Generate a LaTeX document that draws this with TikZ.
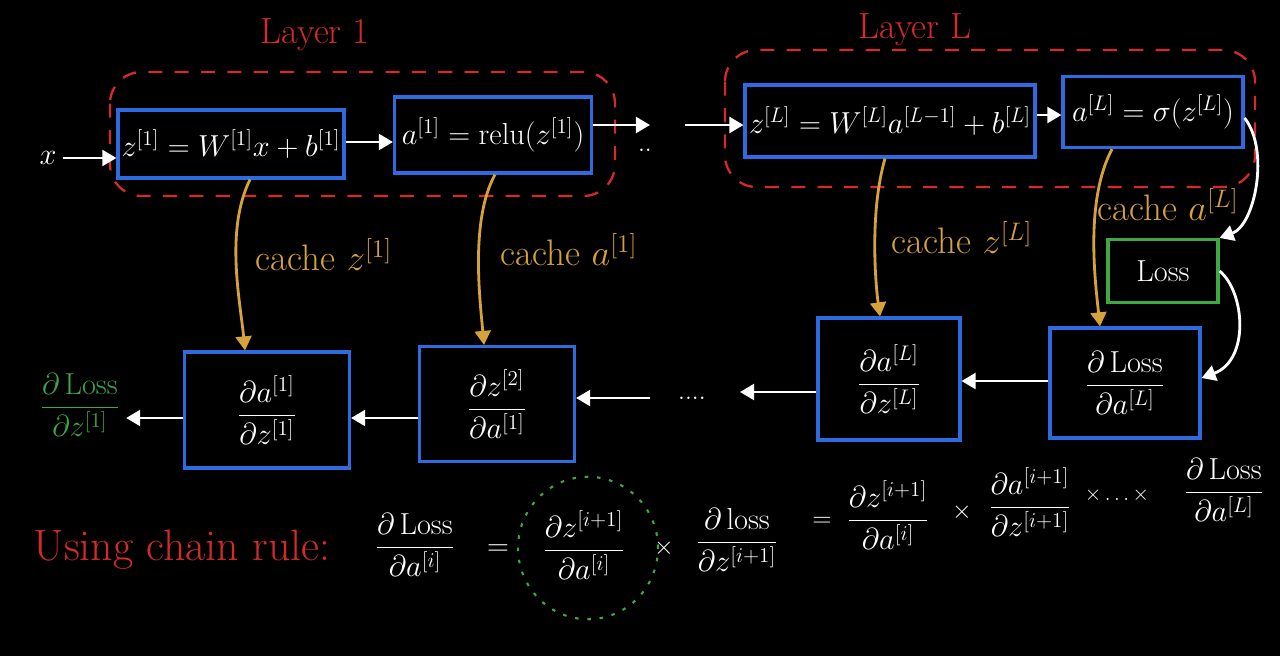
\documentclass[tikz,border=0pt]{standalone}
\usepackage{amsmath}
\usetikzlibrary{arrows.meta,shapes.geometric}
\definecolor{bblue}{HTML}{2F6BDF}
\definecolor{rred}{HTML}{D42A2A}
\definecolor{ggreen}{HTML}{3FA845}
\definecolor{oorange}{HTML}{D6A23A}
\begin{document}
\begin{tikzpicture}[x=0.02cm,y=-0.02cm,
  box/.style={draw=bblue,line width=1.8pt,text=white,inner sep=2pt,font=\LARGE},
  lossbox/.style={draw=ggreen,line width=1.8pt,text=white,inner sep=2pt,font=\LARGE},
  flow/.style={draw=white,line width=1.6pt,-{Triangle[width=9pt,length=8pt]}},
  cache/.style={draw=oorange,line width=1.6pt,-{Triangle[width=9pt,length=8pt]}},
  cachelab/.style={text=oorange,font=\fontsize{21}{25}\selectfont},
  layer/.style={draw=rred,line width=1.3pt,dash pattern=on 8pt off 7pt,rounded corners=18pt},
  wtext/.style={text=white,font=\LARGE},
  ttl/.style={text=rred,font=\huge}]
\fill[black] (0,0) rectangle (1280,656);
\useasboundingbox (0,0) rectangle (1280,656);

% titles
\node[ttl] (t1) at (315,35) {Layer 1};
\node[ttl] (tL) at (915,30) {Layer L};

% layer regions
\draw[layer] (110,72) rectangle (615,196);
\draw[layer] (725,50) rectangle (1255,187);

% forward boxes
\node[box,minimum width=4.44cm,minimum height=1.36cm] (f1) at (231,144) {$z^{[1]} = W^{[1]}x + b^{[1]}$};
\node[box,minimum width=3.94cm,minimum height=1.52cm] (f2) at (493,135) {$a^{[1]} = \mathrm{relu}(z^{[1]})$};
\node[box,minimum width=5.8cm,minimum height=1.44cm] (fL1) at (890,121) {$z^{[L]} = W^{[L]}a^{[L-1]} + b^{[L]}$};
\node[box,minimum width=3.6cm,minimum height=1.42cm] (fL2) at (1153,112) {$a^{[L]} = \sigma(z^{[L]})$};
\node[lossbox,minimum width=2.2cm,minimum height=1.26cm] (loss) at (1163,271) {Loss};

% backward boxes
\node[box,minimum width=3.0cm,minimum height=2.2cm] (bL2) at (1125,383) {$\dfrac{\partial\,\mathrm{Loss}}{\partial a^{[L]}}$};
\node[box,minimum width=2.84cm,minimum height=2.44cm] (bL1) at (889,379) {$\dfrac{\partial a^{[L]}}{\partial z^{[L]}}$};
\node[box,minimum width=3.1cm,minimum height=2.3cm] (b2) at (497,404) {$\dfrac{\partial z^{[2]}}{\partial a^{[1]}}$};
\node[box,minimum width=3.3cm,minimum height=2.32cm] (b1) at (267,410) {$\dfrac{\partial a^{[1]}}{\partial z^{[1]}}$};

% input and output
\node[wtext] (x) at (48,158) {$x$};
\node[text=ggreen,font=\LARGE] (out) at (80,405) {$\dfrac{\partial\,\mathrm{Loss}}{\partial z^{[1]}}$};
\node[wtext,font=\Large] (d1) at (645,150) {$..$};
\node[wtext,font=\Large] (d2) at (692,398) {$....$};
\coordinate (c1) at (650,125);
\coordinate (c2) at (685,125);
\coordinate (c3) at (740,392);
\coordinate (c4) at (650,398);

% forward arrows
\draw[flow] (x) -- (f1.west |- x);
\draw[flow] (f1.east |- 0,142) -- (f2.west |- 0,142);
\draw[flow] (f2.east |- c1) -- (c1);
\draw[flow] (c2) -- (fL1.west |- c2);
\draw[flow] (fL1.east |- 0,115) -- (fL2.west |- 0,115);
\draw[flow] (fL2.east |- 0,118) .. controls (1270,150) and (1255,225) .. (loss.north east);
\draw[flow] (loss.east) .. controls (1245,292) and (1250,360) .. (bL2.east |- 0,378);

% backward arrows
\draw[flow] (bL2.west |- 0,381) -- (bL1.east |- 0,381);
\draw[flow] (bL1.west |- c3) -- (c3);
\draw[flow] (c4) -- (b2.east |- c4);
\draw[flow] (b2.west |- 0,418) -- (b1.east |- 0,418);
\draw[flow] (b1.west |- 0,418) -- (out.east |- 0,418);

% cache arrows
\draw[cache] (f1.south -| 250,0) .. controls (225,230) and (240,300) .. (b1.north -| 245,0);
\node[cachelab] (l1) at (324,255) {cache $z^{[1]}$};
\draw[cache] (f2.south -| 495,0) .. controls (470,220) and (480,300) .. (b2.north -| 484,0);
\node[cachelab] (l2) at (569,250) {cache $a^{[1]}$};
\draw[cache] (fL1.south -| 885,0) .. controls (870,210) and (875,280) .. (bL1.north -| 880,0);
\node[cachelab] (l3) at (962,238) {cache $z^{[L]}$};
\draw[cache] (fL2.south -| 1112,0) .. controls (1085,200) and (1095,280) .. (bL2.north -| 1100,0);
\node[cachelab] (l4) at (1168,205) {cache $a^{[L]}$};

% chain rule
\node[text=rred,font=\fontsize{25}{30}\selectfont] (cr) at (182,550) {Using chain rule:};
\node[wtext] (e1) at (415,545) {$\dfrac{\partial\,\mathrm{Loss}}{\partial a^{[i]}}$};
\node[wtext] (q1) at (498,550) {$=$};
\node[wtext] (e2) at (584,545) {$\dfrac{\partial z^{[i+1]}}{\partial a^{[i]}}$};
\node[draw=ggreen,line width=1.2pt,dash pattern=on 2pt off 5pt,ellipse,minimum width=2.8cm,minimum height=2.85cm] (circ) at (588,548) {};
\node[wtext,font=\Large] (m1) at (664,548) {$\times$};
\node[wtext] (e3) at (737,540) {$\dfrac{\partial\,\mathrm{loss}}{\partial z^{[i+1]}}$};
\node[wtext,font=\Large] (q2) at (822,522) {$=$};
\node[wtext] (e4) at (888,515) {$\dfrac{\partial z^{[i+1]}}{\partial a^{[i]}}$};
\node[wtext,font=\Large] (m2) at (962,512) {$\times$};
\node[wtext] (e5) at (1030,502) {$\dfrac{\partial a^{[i+1]}}{\partial z^{[i+1]}}$};
\node[wtext,font=\large] (m3) at (1117,495) {$\times\ldots\times$};
\node[wtext] (e6) at (1224,490) {$\dfrac{\partial\,\mathrm{Loss}}{\partial a^{[L]}}$};
\end{tikzpicture}
\end{document}
